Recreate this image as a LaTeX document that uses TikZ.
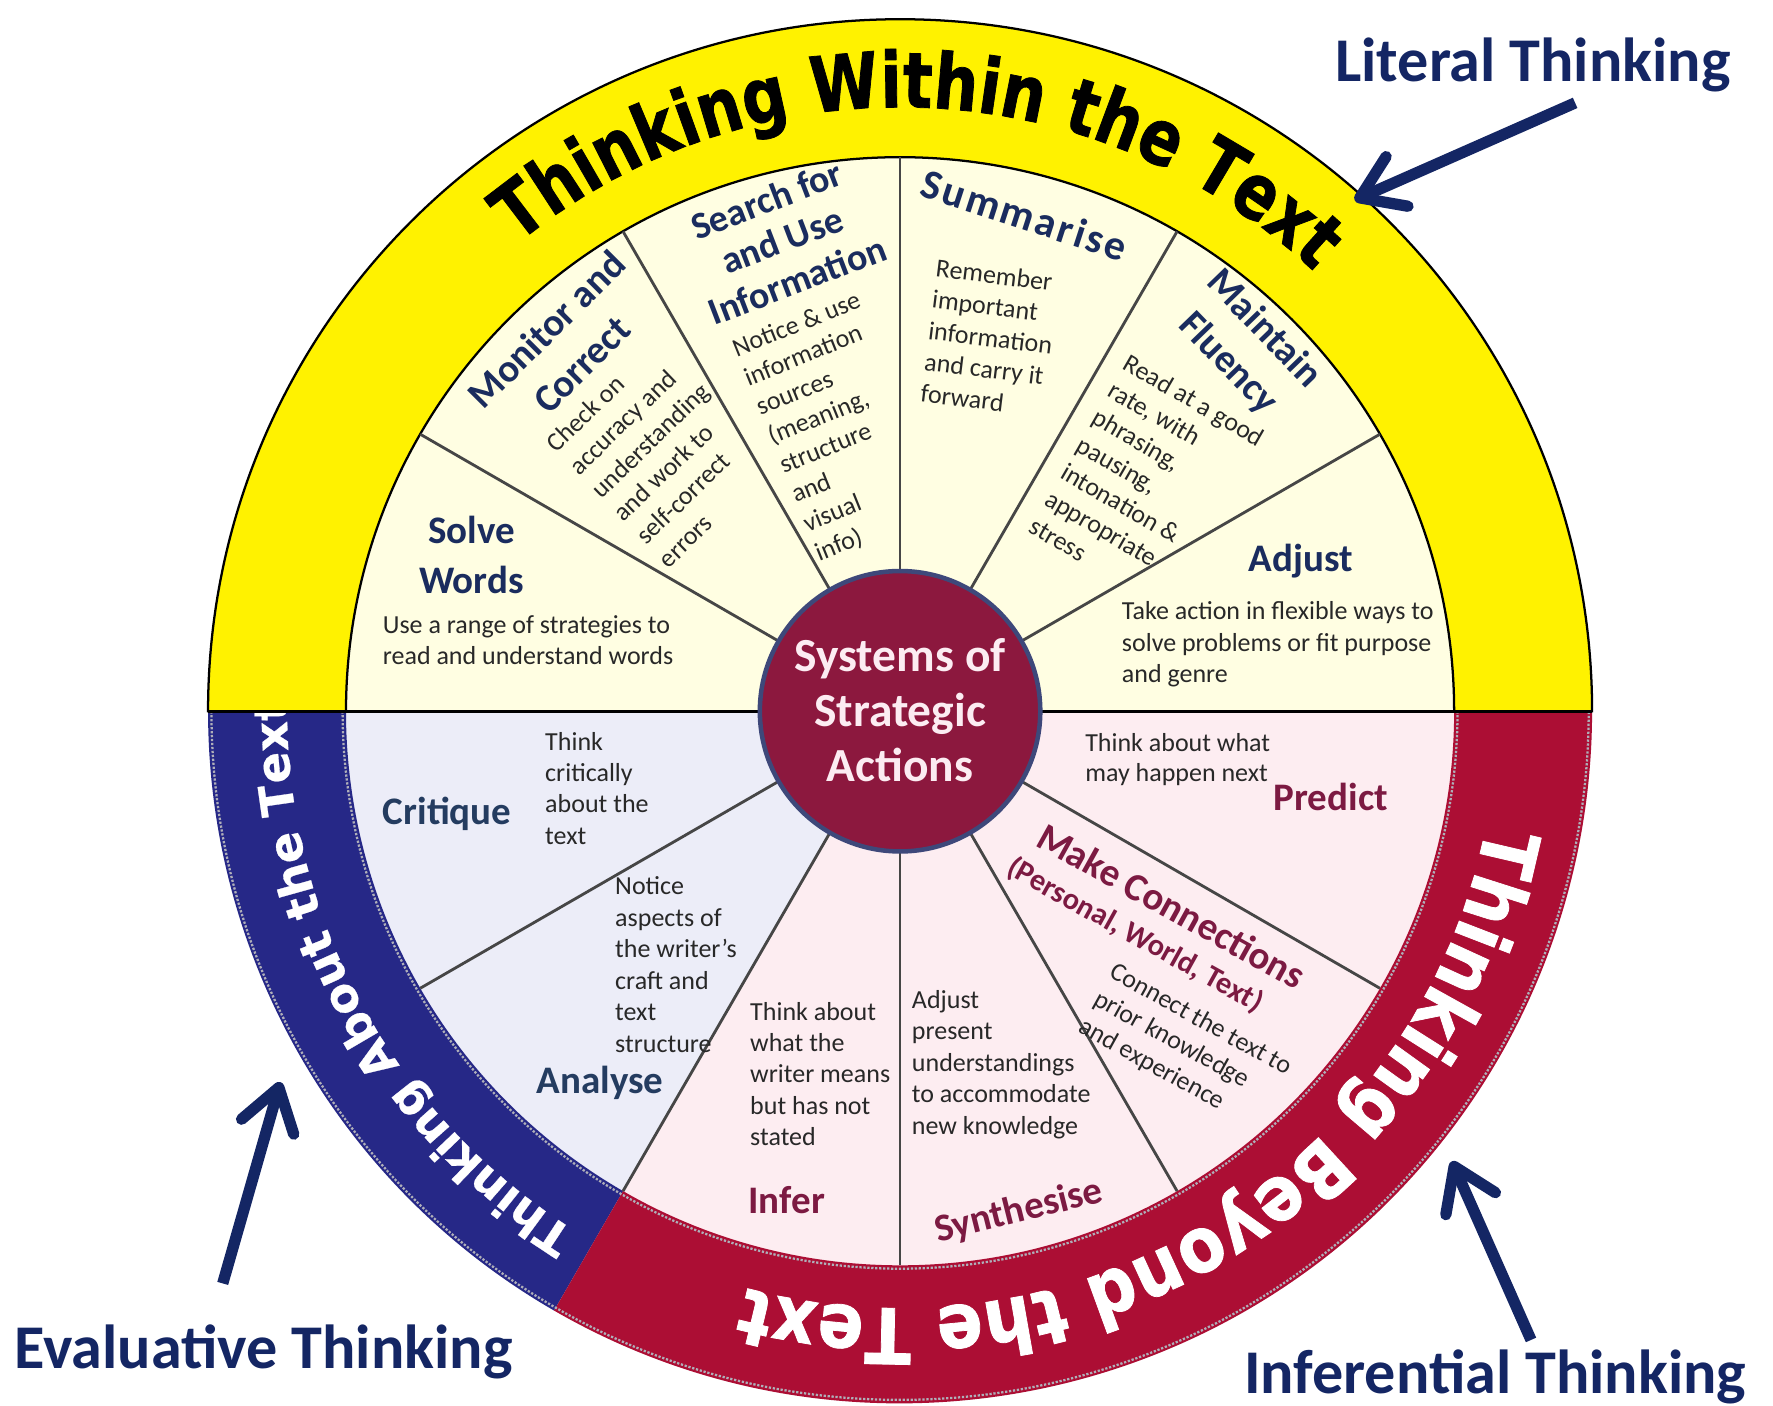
\documentclass[tikz,border=0pt]{standalone}
\usepackage{fontspec}
\setmainfont{Carlito}
\newfontfamily\withinfam{DejaVu Sans}[FakeStretch=0.81,FakeBold=1]
\newfontfamily\beyondfam{DejaVu Sans}[FakeStretch=0.88,FakeBold=1]
\newfontfamily\aboutfam{DejaVu Sans}[FakeBold=0.6]
\usetikzlibrary{decorations.text,arrows.meta}

\definecolor{ringyellow}{RGB}{255,242,0}
\definecolor{ringblue}{RGB}{38,40,135}
\definecolor{ringred}{RGB}{172,14,52}
\definecolor{hubred}{RGB}{140,24,62}
\definecolor{hubrim}{RGB}{62,72,122}
\definecolor{hubtext}{RGB}{252,236,242}
\definecolor{segyellow}{RGB}{255,254,226}
\definecolor{seglilac}{RGB}{236,237,248}
\definecolor{segpink}{RGB}{253,237,241}
\definecolor{navyhead}{RGB}{26,44,94}
\definecolor{slatehead}{RGB}{36,60,96}
\definecolor{maroonhead}{RGB}{124,26,66}
\definecolor{bodygray}{RGB}{40,40,40}
\definecolor{arrownavy}{RGB}{20,38,100}
\definecolor{spoke}{RGB}{70,70,70}
\definecolor{stitchgray}{RGB}{175,175,185}

\newcommand\stackL[1]{\begin{tabular}[t]{@{}l@{}}#1\end{tabular}}
\newcommand\stackC[1]{\begin{tabular}[t]{@{}c@{}}#1\end{tabular}}
\newcommand\withinfont{\withinfam\bfseries\fontsize{68}{68}\selectfont}
\newcommand\beyondfont{\beyondfam\bfseries\fontsize{68}{68}\selectfont}
\newcommand\aboutfont{\aboutfam\bfseries\fontsize{41}{41}\selectfont}

\begin{document}
\begin{tikzpicture}[x=1pt,y=1pt,
  bodytext/.style={inner sep=0pt, text=bodygray, font=\fontsize{23}{27.8}\selectfont},
  headnavy/.style={inner sep=0pt, text=navyhead, font=\fontsize{34.5}{44}\selectfont\bfseries},
  headslate/.style={headnavy, text=slatehead},
  headmaroon/.style={headnavy, text=maroonhead},
  tagtext/.style={inner sep=0pt, text=arrownavy, font=\fontsize{55}{60}\selectfont\bfseries},
  pointer/.style={draw=arrownavy, line width=10pt, -{Straight Barb[length=36pt,width=48pt,round]}},
  spokeline/.style={draw=spoke, line width=2.5pt},
  stitch/.style={draw=stitchgray, line width=2pt, dash pattern=on 2pt off 1.5pt}
]
\def\rOut{612}
\def\rIn{490}

\useasboundingbox (-796,-614) rectangle (772,629);
\fill[white] (-796,-614) rectangle (772,629);

% inner sectors
\fill[segyellow] (0,0) -- (0:\rIn) arc[start angle=0,end angle=180,radius=\rIn] -- cycle;
\fill[seglilac] (0,0) -- (180:\rIn) arc[start angle=180,end angle=240,radius=\rIn] -- cycle;
\fill[segpink] (0,0) -- (240:\rIn) arc[start angle=240,end angle=360,radius=\rIn] -- cycle;

% lower ring bands
\fill[ringblue] (180:\rOut) arc[start angle=180,end angle=240,radius=\rOut]
  -- (240:\rIn) arc[start angle=240,end angle=180,radius=\rIn] -- cycle;
\fill[ringred] (240:\rOut) arc[start angle=240,end angle=360,radius=\rOut]
  -- (0:\rIn) arc[start angle=360,end angle=240,radius=\rIn] -- cycle;

\path[decorate, decoration={text along path, text color=white, text align=left,
  text={|\aboutfont|Thinking About the Text}}]
  (238:542) arc[start angle=238,end angle=160,radius=542];

% upper ring band
\fill[ringyellow, draw=black, line width=2pt] (0:\rOut) arc[start angle=0,end angle=180,radius=\rOut]
  -- (180:\rIn) arc[start angle=180,end angle=0,radius=\rIn] -- cycle;

\path[decorate, decoration={text along path, text color=black, text align=center,
  text={|\withinfont|Thinking Within the Text}}]
  (148:534) arc[start angle=148,end angle=28,radius=534];

\path[decorate, decoration={text along path, text color=white, text align=center,
  text={|\beyondfont|Thinking Beyond the Text}}]
  (2:528) arc[start angle=2,end angle=-118,radius=528];

% stitched edges of the lower bands
\draw[stitch] (180:609) arc[start angle=180,end angle=360,radius=609];
\draw[stitch] (180:493) arc[start angle=180,end angle=360,radius=493];

% dividing diameter and spokes
\draw[black, line width=3pt] (180:\rOut) -- (0:\rOut);
\foreach \a in {30,60,90,120,150,210,240,270,300,330}
  \draw[spokeline] (\a:120) -- (\a:\rIn);

% hub
\node[circle, minimum size=248pt, inner sep=0pt, fill=hubred, draw=hubrim, line width=4pt] (hub) at (0,0) {};
\node[anchor=base, inner sep=0pt, text=hubtext, font=\fontsize{42}{48.7}\selectfont\bfseries]
  (hubtxt) at (0,35) {\stackC{Systems of\\Strategic\\Actions}};

% upper sectors
\node[headnavy, anchor=base] (solveH) at (-379,148.5) {\stackC{Solve\\Words}};
\node[bodytext, anchor=base west] (solveB) at (-457.6,68.9)
  {\stackL{Use a range of strategies to\\read and understand words}};

\node[headnavy, rotate=45] (monitorH) at (-295,320) {\stackC{Monitor and\\Correct}};
\node[bodytext, anchor=base west, rotate=44, font=\fontsize{23}{28.5}\selectfont] (monitorB) at (-303.7,228.1)
  {\stackL{Check on\\accuracy and\\understanding\\and work to\\self-correct\\errors}};

\node[headnavy, rotate=21, font=\fontsize{33.5}{38}\selectfont\bfseries] (searchH) at (-103,413)
  {\stackC{Search for\\and Use\\Information}};
\node[bodytext, anchor=base west, rotate=22] (searchB) at (-144.5,313)
  {\stackL{Notice \& use\\information\\sources\\(meaning,\\structure\\and\\visual\\info)}};

\node[headnavy, rotate=-18, font=\fontsize{37}{44}\selectfont\bfseries\addfontfeatures{LetterSpace=6}]
  (sumH) at (110,438.9) {Summarise};
\node[bodytext, anchor=base west, rotate=-7] (sumB) at (30.9,384.3)
  {\stackL{Remember\\important\\information\\and carry it\\forward}};

\node[headnavy, rotate=-46] (fluH) at (305.4,322.1) {\stackC{Maintain\\Fluency}};
\node[bodytext, anchor=base west, rotate=-30] (fluB) at (196,303.2)
  {\stackL{Read at a good\\rate, with\\phrasing,\\pausing,\\intonation \&\\appropriate\\stress}};

\node[headnavy, anchor=base] (adjH) at (354.5,123.4) {Adjust};
\node[bodytext, anchor=base west] (adjB) at (196,80.7)
  {\stackL{Take action in flexible ways to\\solve problems or fit purpose\\and genre}};

% lower sectors
\node[headslate, anchor=base] (critH) at (-400.5,-100.6) {Critique};
\node[bodytext, anchor=base west] (critB) at (-314,-34.3)
  {\stackL{Think\\critically\\about the\\text}};

\node[headslate, anchor=base] (anaH) at (-265.4,-338) {Analyse};
\node[bodytext, anchor=base west] (anaB) at (-252.1,-162.5)
  {\stackL{Notice\\aspects of\\the writer’s\\craft and\\text\\structure}};

\node[headmaroon, anchor=base west] (infH) at (-134.2,-444) {Infer};
\node[bodytext, anchor=base west] (infB) at (-132.7,-273.1)
  {\stackL{Think about\\what the\\writer means\\but has not\\stated}};

\node[headmaroon, rotate=14] (synH) at (105.2,-442.6) {Synthesise};
\node[bodytext, anchor=base west] (synB) at (10.3,-262.8)
  {\stackL{Adjust\\present\\understandings\\to accommodate\\new knowledge}};

\node[headmaroon, rotate=-29] (conH) at (240,-172) {Make Connections};
\node[headmaroon, rotate=-29, font=\fontsize{27}{30}\selectfont\bfseries] (conS) at (208,-198)
  {(Personal, World, Text)};
\node[bodytext, rotate=-29] (conB) at (252,-298)
  {\stackL{Connect the text to\\prior knowledge\\and experience}};

\node[headmaroon, anchor=base] (preH) at (381,-87.4) {Predict};
\node[bodytext, anchor=base west, font=\fontsize{23}{26.5}\selectfont] (preB) at (163.6,-35.8)
  {\stackL{Think about what\\may happen next}};

% outer labels and pointers
\node[tagtext, anchor=base west] (litT) at (384.7,556.8) {Literal Thinking};
\node[tagtext, anchor=base west] (evalT) at (-783.4,-581) {Evaluative Thinking};
\node[tagtext, anchor=base west] (infT) at (304,-603) {Inferential Thinking};

\coordinate (litTail) at (597,538);
\coordinate (litTip) at (402,452);
\coordinate (evalTail) at (-599,-506);
\coordinate (evalTip) at (-548,-328);
\coordinate (infTail) at (558,-556);
\coordinate (infTip) at (488,-398);

\draw[pointer] (litTail) -- (litTip);
\draw[pointer] (evalTail) -- (evalTip);
\draw[pointer] (infTail) -- (infTip);
\end{tikzpicture}
\end{document}
